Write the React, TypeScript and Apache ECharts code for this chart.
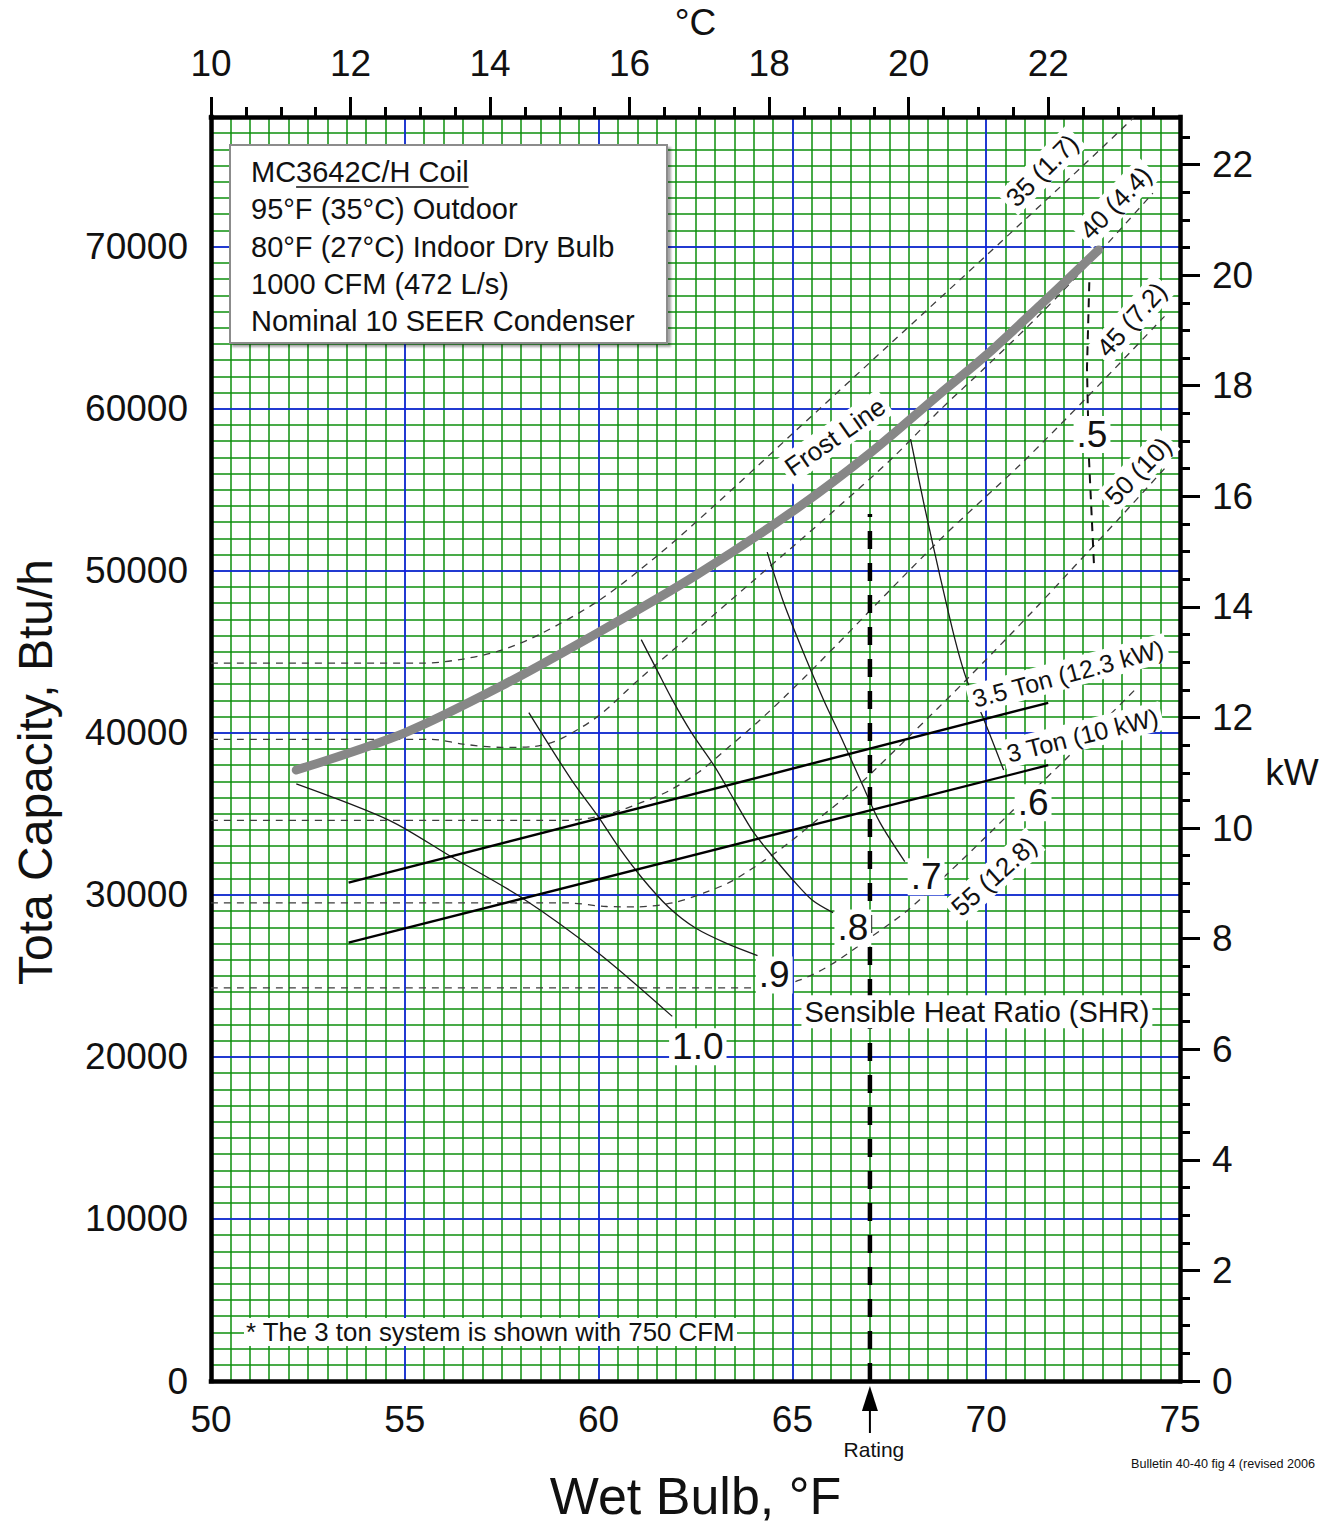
import React, { useEffect, useRef } from "react";
import * as echarts from "echarts";

const FONT = '"Liberation Sans", Arial, Helvetica, sans-serif';

// ---------- axis extents & tick labels ----------
const wetBulbMin = 50;
const wetBulbMax = 75;
const capacityMax = 78000;
const BTU_PER_KW = 3412.14;
const celsiusMin = 10;
const celsiusMax = (wetBulbMax - 32) / 1.8;
const kwMax = capacityMax / BTU_PER_KW;

const celsiusMajorTicks = [10, 12, 14, 16, 18, 20, 22];
const celsiusMinorTicks = [10.5, 11, 11.5, 12.5, 13, 13.5, 14.5, 15, 15.5, 16.5, 17, 17.5, 18.5, 19, 19.5, 20.5, 21, 21.5, 22.5, 23, 23.5];
const kwMajorTicks = [0, 2, 4, 6, 8, 10, 12, 14, 16, 18, 20, 22];
const kwMinorTicks = [0.5, 1, 1.5, 2.5, 3, 3.5, 4.5, 5, 5.5, 6.5, 7, 7.5, 8.5, 9, 9.5, 10.5, 11, 11.5, 12.5, 13, 13.5, 14.5, 15, 15.5, 16.5, 17, 17.5, 18.5, 19, 19.5, 20.5, 21, 21.5, 22.5];

// ---------- data: [wet bulb °F, total capacity Btu/h] ----------
const coilCapacity = [[52.2, 37700], [55, 40000], [57.5, 42900], [60, 46200], [62.5, 49700], [65, 53650], [67, 57250], [68.8, 60900], [70, 63300], [71.4, 66400], [72.9, 69800]];

const evap35 = [[50, 44300], [55.5, 44300], [56.5, 44550], [57.5, 45100], [58.5, 46100], [60, 48150], [61.5, 50900], [63, 54050], [65, 58450], [67.5, 63950], [70, 69450], [72.5, 75000], [73.8, 77950]];
const evap40 = [[50, 39600], [55.7, 39600], [56.5, 39300], [57.5, 39100], [58.3, 39150], [59, 39600], [60, 41050], [61, 43200], [62.5, 46300], [64, 49400], [66, 53550], [67.6, 57000], [68.8, 59900], [70, 62600], [71.4, 65850], [72.9, 69600], [74.3, 73300]];
const evap45 = [[50, 34600], [59.2, 34600], [60.2, 34950], [61, 35600], [61.8, 36400], [62.6, 37600], [63.3, 39000], [64.1, 40650], [64.9, 42450], [65.7, 44350], [68.8, 51900], [70.9, 56600], [72.6, 60700], [74.6, 65700]];
const evap50 = [[50, 29500], [59.2, 29500], [60.2, 29280], [61, 29260], [61.9, 29500], [62.7, 30100], [63.4, 30800], [64.2, 32000], [64.9, 33200], [65.7, 34750], [66.5, 36300], [68, 39750], [69.5, 43300], [71.2, 47500], [72.6, 51100], [73.4, 53150], [74.6, 56300]];
const evap55 = [[50, 24260], [64.3, 24260], [65.2, 24750], [66, 25700], [67, 27350], [68, 29100], [69, 31300], [70, 33600], [71, 35950], [72, 38250], [73, 40650], [73.9, 42800]];

const shr10 = [[52.2, 36850], [54.6, 34600], [56.2, 32350], [58, 29850], [60, 26400], [61.9, 22500]];
const shr09 = [[58.2, 41250], [59.3, 37100], [60, 34800], [60.5, 33000], [61.1, 31100], [61.8, 29250], [62.5, 27950], [63.3, 27000], [64.1, 26250]];
const shr08 = [[61.1, 45750], [61.5, 43900], [61.9, 42050], [62.4, 40000], [63, 37900], [63.5, 35850], [64, 33850], [64.5, 32350], [65, 30950], [65.5, 29700], [66.05, 28900]];
const shr07 = [[64.35, 51150], [64.75, 48200], [65.2, 45450], [65.8, 42050], [66.25, 39750], [66.75, 37100], [67.25, 34500], [67.9, 32050]];
const shr06 = [[68.05, 58100], [68.4, 54050], [68.8, 49750], [69.2, 45700], [69.5, 43250], [69.9, 41050], [70.45, 37700]];
const shr05 = [[72.66, 67800], [72.6, 62500], [72.65, 57000], [72.78, 50400]];

const system35Ton = [[53.55, 30750], [71.6, 41850]];
const system3Ton = [[53.55, 27050], [71.6, 38000]];

const ratingWetBulb = 67;
const ratingLine = [[ratingWetBulb, 0], [ratingWetBulb, 53500]];

// ---------- annotation anchors (data coordinates) ----------
const lineLabels = [
  { text: "35 (1.7)", at: [71.44, 74700], angle: 45 },
  { text: "40 (4.4)", at: [73.34, 72700], angle: 46 },
  { text: "45 (7.2)", at: [73.75, 65500], angle: 48 },
  { text: "50 (10)", at: [73.92, 56150], angle: 46 },
  { text: "55 (12.8)", at: [70.2, 31150], angle: 42 },
  { text: "Frost Line", at: [66.1, 58270], angle: 35 },
  { text: "3.5 Ton (12.3 kW)", at: [72.11, 43650], angle: 15 },
  { text: "3 Ton (10 kW)", at: [72.48, 39850], angle: 14 },
];
const shrLabels = [
  { text: ".5", at: [72.73, 58400] },
  { text: ".6", at: [71.21, 35680] },
  { text: ".7", at: [68.45, 31110] },
  { text: ".8", at: [66.56, 27960] },
  { text: ".9", at: [64.53, 25060] },
  { text: "1.0", at: [62.56, 20620] },
];
const shrTitle = { text: "Sensible Heat Ratio (SHR)", at: [69.76, 22780] };

const legendLines = [
  "MC3642C/H Coil",
  "95°F (35°C) Outdoor",
  "80°F (27°C) Indoor Dry Bulb",
  "1000 CFM (472 L/s)",
  "Nominal 10 SEER Condenser",
];
const footnote = "* The 3 ton system is shown with 750 CFM";
const bulletinNote = "Bulletin 40-40 fig 4 (revised 2006";

function dashedSeries(name: string, data: number[][]) {
  return {
    type: "line", name, data, symbol: "none", silent: true, z: 3,
    smooth: 0.3,
    lineStyle: { color: "#3c3c3c", width: 1.3, type: [7, 6] },
  };
}
function shrSeries(name: string, data: number[][]) {
  return {
    type: "line", name, data, symbol: "none", silent: true, z: 4,
    smooth: 0.3,
    lineStyle: { color: "#1a1a1a", width: 1.3 },
  };
}

const labelStyle = { fontFamily: FONT, color: "#111" };
const plainNumber = (v: number) => String(Math.round(v * 1000) / 1000);

const option: any = {
  animation: false,
  backgroundColor: "#ffffff",
  textStyle: { fontFamily: FONT },
  grid: { left: 211, right: 158, top: 117, bottom: 143, containLabel: false, outerBoundsMode: "none" },
  xAxis: [
    {
      type: "value", position: "bottom", min: wetBulbMin, max: wetBulbMax, interval: 5, z: 1,
      axisLine: { show: true, onZero: false, lineStyle: { color: "#000", width: 4.5, cap: "square" } },
      axisTick: { show: false },
      axisLabel: { show: true, fontSize: 37, margin: 20, formatter: plainNumber, ...labelStyle },
      splitLine: { show: true, showMinLine: false, showMaxLine: false, lineStyle: { color: "#1414ff", width: 1.5 } },
      name: "Wet Bulb, °F", nameLocation: "middle", nameGap: 89, nameMoveOverlap: false,
      nameTextStyle: { fontSize: 52, ...labelStyle },
    },
    {
      type: "value", position: "top", min: celsiusMin, max: celsiusMax, z: 3,
      axisLine: { show: true, onZero: false, lineStyle: { color: "#000", width: 4.5, cap: "square" } },
      axisTick: { show: true, customValues: celsiusMajorTicks, length: 20, lineStyle: { color: "#000", width: 3 } },
      axisLabel: { show: true, customValues: celsiusMajorTicks, fontSize: 37, margin: 35, formatter: plainNumber, ...labelStyle },
      splitLine: { show: false },
      name: "°C", nameLocation: "middle", nameGap: 76, nameMoveOverlap: false,
      nameTextStyle: { fontSize: 37, ...labelStyle },
    },
    {
      type: "value", position: "top", min: celsiusMin, max: celsiusMax, z: 3,
      axisLine: { show: false, onZero: false },
      axisTick: { show: true, customValues: celsiusMinorTicks, length: 10, lineStyle: { color: "#000", width: 3 } },
      axisLabel: { show: false },
      splitLine: { show: false },
    },
    {
      type: "value", position: "bottom", min: wetBulbMin, max: wetBulbMax, interval: 0.5, z: 0,
      axisLine: { show: false, onZero: false },
      axisTick: { show: false },
      axisLabel: { show: false },
      splitLine: { show: true, showMinLine: false, showMaxLine: false, lineStyle: { color: "#0c8f0c", width: 1.5 } },
    },
  ],
  yAxis: [
    {
      type: "value", position: "left", min: 0, max: capacityMax, interval: 10000, z: 1,
      axisLine: { show: true, onZero: false, lineStyle: { color: "#000", width: 4.5, cap: "square" } },
      axisTick: { show: false },
      axisLabel: { show: true, showMaxLabel: false, fontSize: 37, margin: 23, formatter: plainNumber, ...labelStyle },
      splitLine: { show: true, showMinLine: false, showMaxLine: false, lineStyle: { color: "#1414ff", width: 1.5 } },
    },
    {
      type: "value", position: "right", min: 0, max: kwMax, z: 3,
      axisLine: { show: true, onZero: false, lineStyle: { color: "#000", width: 4.5, cap: "square" } },
      axisTick: { show: true, customValues: kwMajorTicks, length: 20, lineStyle: { color: "#000", width: 3 } },
      axisLabel: { show: true, customValues: kwMajorTicks, fontSize: 37, margin: 32, formatter: plainNumber, ...labelStyle },
      splitLine: { show: false },
    },
    {
      type: "value", position: "right", min: 0, max: kwMax, z: 3,
      axisLine: { show: false, onZero: false },
      axisTick: { show: true, customValues: kwMinorTicks, length: 10, lineStyle: { color: "#000", width: 3 } },
      axisLabel: { show: false },
      splitLine: { show: false },
    },
    {
      type: "value", position: "left", min: 0, max: capacityMax, interval: 1000, z: 0,
      axisLine: { show: false, onZero: false },
      axisTick: { show: false },
      axisLabel: { show: false },
      splitLine: { show: true, showMinLine: false, showMaxLine: false, lineStyle: { color: "#0c8f0c", width: 1.5 } },
    },
  ],
  series: [
    dashedSeries("35 (1.7)", evap35),
    dashedSeries("40 (4.4)", evap40),
    dashedSeries("45 (7.2)", evap45),
    dashedSeries("50 (10)", evap50),
    dashedSeries("55 (12.8)", evap55),
    shrSeries("SHR 1.0", shr10),
    shrSeries("SHR .9", shr09),
    shrSeries("SHR .8", shr08),
    shrSeries("SHR .7", shr07),
    shrSeries("SHR .6", shr06),
    {
      type: "line", name: "SHR .5", data: shr05, symbol: "none", silent: true, z: 4,
      lineStyle: { color: "#111", width: 2, type: [9, 7] },
    },
    {
      type: "line", name: "3.5 Ton", data: system35Ton, symbol: "none", silent: true, z: 4,
      lineStyle: { color: "#000", width: 2.4 },
    },
    {
      type: "line", name: "3 Ton", data: system3Ton, symbol: "none", silent: true, z: 4,
      lineStyle: { color: "#000", width: 2.4 },
    },
    {
      type: "line", name: "MC3642C/H Coil", data: coilCapacity, symbol: "none", silent: true, z: 5,
      smooth: 0.3,
      lineStyle: { color: "#878787", width: 9, cap: "round" },
    },
    {
      type: "line", name: "Rating", data: ratingLine, symbol: "none", silent: true, z: 6,
      lineStyle: { color: "#000", width: 4.5, type: [18, 14] },
    },
  ],
};

function buildGraphics(chart: any) {
  const px = (p: number[]) => chart.convertToPixel({ xAxisIndex: 0, yAxisIndex: 0 }, p) as number[];
  const els: any[] = [];

  // rotated line labels with white boxes
  lineLabels.forEach((l) => {
    const p = px(l.at);
    const size = l.text.indexOf("Ton") >= 0 ? 25 : 26;
    els.push({
      type: "text", x: p[0], y: p[1], rotation: (l.angle * Math.PI) / 180, z: 100, silent: true,
      style: {
        text: l.text, fontSize: size, fontFamily: FONT, fill: "#111",
        align: "center", verticalAlign: "middle", backgroundColor: "#fff", padding: [2, 4],
      },
    });
  });

  shrLabels.forEach((l) => {
    const p = px(l.at);
    els.push({
      type: "text", x: p[0], y: p[1], z: 100, silent: true,
      style: {
        text: l.text, fontSize: 37, fontFamily: FONT, fill: "#111",
        align: "center", verticalAlign: "middle", backgroundColor: "#fff", padding: [0, 3],
      },
    });
  });

  {
    const p = px(shrTitle.at);
    els.push({
      type: "text", x: p[0], y: p[1], z: 100, silent: true,
      style: {
        text: shrTitle.text, fontSize: 29, fontFamily: FONT, fill: "#111",
        align: "center", verticalAlign: "middle", backgroundColor: "#fff", padding: [2, 3],
      },
    });
  }

  // info box (top-left)
  const boxX = 230, boxY = 145, boxW = 437, boxH = 198;
  els.push({
    type: "rect", z: 100, silent: true,
    shape: { x: boxX, y: boxY, width: boxW, height: boxH },
    style: { fill: "#fff", stroke: "#8c8c8c", lineWidth: 2, shadowColor: "rgba(0,0,0,0.35)", shadowOffsetX: 3, shadowOffsetY: 3, shadowBlur: 2 },
  });
  const textX = boxX + 21;
  legendLines.forEach((t, i) => {
    els.push({
      type: "text", x: textX, y: boxY + 27 + i * 37.3, z: 101, silent: true,
      style: { text: t, fontSize: 29, fontFamily: FONT, fill: "#111", align: "left", verticalAlign: "middle" },
    });
  });
  // partial underline of the coil model
  let wStart = 45, wEnd = 217;
  try {
    const ctx = document.createElement("canvas").getContext("2d");
    if (ctx) {
      ctx.font = `29px ${FONT}`;
      wStart = ctx.measureText("MC").width;
      wEnd = ctx.measureText(legendLines[0]).width;
    }
  } catch (e) { /* ignore */ }
  els.push({
    type: "line", z: 101, silent: true,
    shape: { x1: textX + wStart, y1: boxY + 42, x2: textX + wEnd, y2: boxY + 42 },
    style: { stroke: "#111", lineWidth: 1.6 },
  });

  // footnote
  els.push({
    type: "rect", z: 100, silent: true,
    shape: { x: 244, y: 1318, width: 493, height: 28 },
    style: { fill: "#fff" },
  });
  els.push({
    type: "text", x: 246, y: 1332, z: 101, silent: true,
    style: { text: footnote, fontSize: 25.8, fontFamily: FONT, fill: "#111", align: "left", verticalAlign: "middle" },
  });

  // rating arrow + label
  const base = px([ratingWetBulb, 0]);
  els.push({
    type: "polygon", z: 100, silent: true,
    shape: { points: [[base[0], base[1] + 5], [base[0] - 8, base[1] + 30], [base[0] + 8, base[1] + 30]] },
    style: { fill: "#000" },
  });
  els.push({
    type: "line", z: 100, silent: true,
    shape: { x1: base[0], y1: base[1] + 26, x2: base[0], y2: base[1] + 52 },
    style: { stroke: "#000", lineWidth: 2 },
  });
  els.push({
    type: "text", x: base[0] + 4, y: base[1] + 68, z: 100, silent: true,
    style: { text: "Rating", fontSize: 21, fontFamily: FONT, fill: "#111", align: "center", verticalAlign: "middle" },
  });

  // right axis name & left axis name
  els.push({
    type: "text", x: 1292, y: 772, z: 100, silent: true,
    style: { text: "kW", fontSize: 37, fontFamily: FONT, fill: "#111", align: "center", verticalAlign: "middle" },
  });
  els.push({
    type: "text", x: 35, y: 772, rotation: Math.PI / 2, z: 100, silent: true,
    style: { text: "Tota Capacity, Btu/h", fontSize: 48, fontFamily: FONT, fill: "#111", align: "center", verticalAlign: "middle" },
  });

  // bulletin reference
  els.push({
    type: "text", x: 1131, y: 1464, z: 100, silent: true,
    style: { text: bulletinNote, fontSize: 12.6, fontFamily: FONT, fill: "#111", align: "left", verticalAlign: "middle" },
  });

  return els;
}

export default function App() {
  const ref = useRef<HTMLDivElement | null>(null);
  useEffect(() => {
    document.body.style.margin = "0";
    if (!ref.current) return;
    const chart = echarts.init(ref.current, null, { renderer: "svg" });
    chart.setOption(option);
    try {
      chart.setOption({ graphic: buildGraphics(chart) });
    } catch (e) {
      console.error(e);
    }
    return () => chart.dispose();
  }, []);
  return <div ref={ref} style={{ width: 1338, height: 1524, background: "#fff" }} />;
}
